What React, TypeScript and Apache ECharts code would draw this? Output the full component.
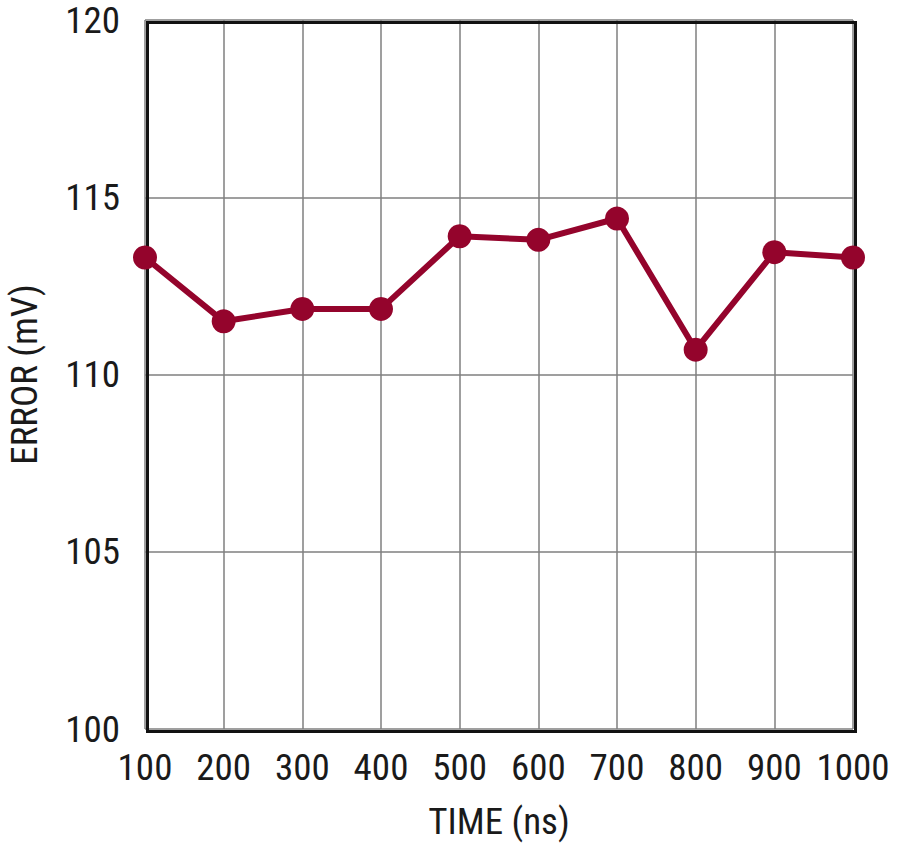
import React, { useEffect, useRef } from "react";
import * as echarts from "echarts";

const timeNs = [100, 200, 300, 400, 500, 600, 700, 800, 900, 1000];
const errorMv = [113.3, 111.5, 111.85, 111.85, 113.9, 113.8, 114.4, 110.7, 113.45, 113.3];
const yTicks = [100, 105, 110, 115, 120];

const FONT = "'Liberation Sans Narrow', 'Roboto Condensed', 'Arial Narrow', 'Liberation Sans', sans-serif";
const LINE_COLOR = "#94042C";

export default function App() {
  const ref = useRef<HTMLDivElement>(null);
  useEffect(() => {
    if (!ref.current) return;
    const chart = echarts.init(ref.current, undefined, { renderer: "svg" });
    chart.setOption({
      animation: false,
      backgroundColor: "#ffffff",
      grid: { left: 145, right: 47, top: 20, bottom: 120, containLabel: false, outerBoundsMode: "none" },
      xAxis: {
        type: "value",
        min: 100,
        max: 1000,
        interval: 100,
        name: "TIME (ns)",
        nameLocation: "middle",
        nameGap: 74,
        nameTextStyle: { fontFamily: FONT, fontSize: 37, color: "#1a1a1a" },
        axisLine: { show: false },
        axisTick: { show: false },
        axisLabel: {
          fontFamily: FONT,
          fontSize: 37,
          color: "#1a1a1a",
          margin: 20,
          formatter: (v: number) => String(v),
        },
        splitLine: { show: true, lineStyle: { color: "#7f7f7f", width: 1.5 } },
      },
      yAxis: {
        type: "value",
        min: yTicks[0],
        max: yTicks[yTicks.length - 1],
        interval: 5,
        name: "ERROR (mV)",
        nameLocation: "middle",
        nameGap: 102,
        nameRotate: 90,
        nameTextStyle: { fontFamily: FONT, fontSize: 37, color: "#1a1a1a" },
        axisLine: { show: false },
        axisTick: { show: false },
        axisLabel: { fontFamily: FONT, fontSize: 37, color: "#1a1a1a", margin: 25 },
        splitLine: { show: true, lineStyle: { color: "#7f7f7f", width: 1.5 } },
      },
      graphic: [
        {
          type: "rect",
          left: 145,
          top: 20,
          shape: { width: 708, height: 709 },
          style: { fill: "none", stroke: "#111", lineWidth: 3 },
          z: 10,
          silent: true,
        },
      ],
      series: [
        {
          type: "line",
          data: timeNs.map((t, i) => [t, errorMv[i]]),
          symbol: "circle",
          symbolSize: 24,
          lineStyle: { color: LINE_COLOR, width: 6 },
          itemStyle: { color: LINE_COLOR },
          z: 20,
        },
      ],
    });
    return () => chart.dispose();
  }, []);
  return (
    <div
      ref={ref}
      style={{ position: "fixed", left: 0, top: 0, width: 900, height: 849, background: "#fff" }}
    />
  );
}
